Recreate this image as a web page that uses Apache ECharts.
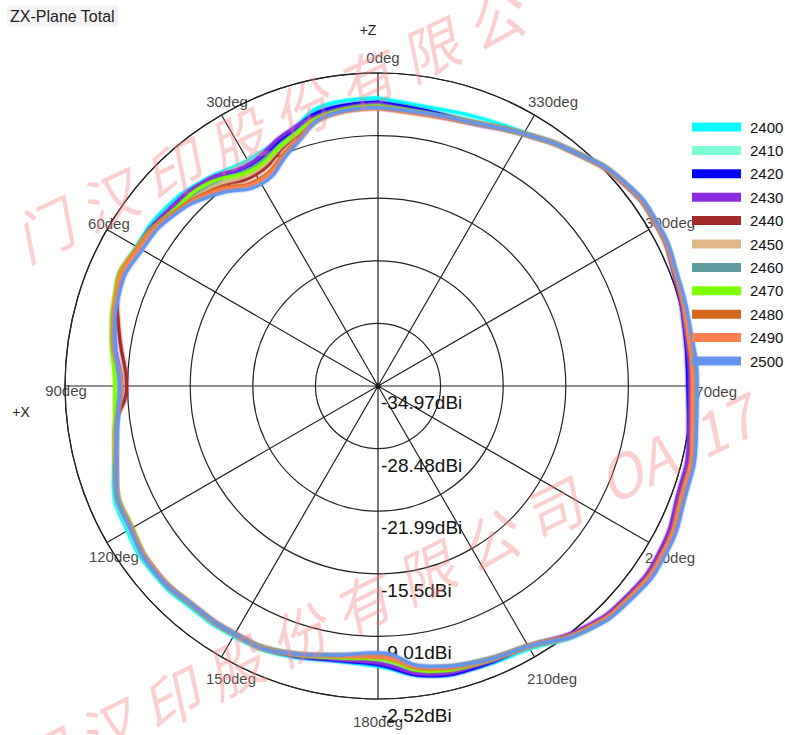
<!DOCTYPE html>
<html><head><meta charset="utf-8">
<script src="https://cdn.jsdelivr.net/npm/echarts@6/dist/echarts.min.js"></script>
<style>html,body{margin:0;padding:0;background:#fff}#c{width:785px;height:735px}</style>
</head><body><div id="c"></div>
<script>
const TITLE = 'ZX-Plane Total';
const ANGLES = [0,10,20,30,40,50,60,70,80,90,100,110,120,130,140,150,160,170,180,190,200,210,220,230,240,250,260,270,280,290,300,310,320,330,340,350,360];
const ANGLE_TICKS = [0,30,60,90,120,150,180,210,240,270,300,330];
const ANGLE_LABELS = ['0deg','30deg','60deg','90deg','120deg','150deg','180deg','210deg','240deg','270deg','300deg','330deg'];
const RADIAL_LABELS = ['-34.97dBi','-28.48dBi','-21.99dBi','-15.5dBi','-9.01dBi','-2.52dBi'];
const R_MIN = -34.97, R_MAX = -2.52, R_STEP = 6.49;
const NAMES = ['2400','2410','2420','2430','2440','2450','2460','2470','2480','2490','2500'];
const COLORS = ['#00FFFF','#7FFFD4','#0000FF','#8A2BE2','#A52A2A','#DEB887','#5F9EA0','#7FFF00','#D2691E','#FF7F50','#6495ED'];

// dBi values at ANGLES
const S2400 = [-5.12,-5.28,-7.23,-7.94,-7.06,-6.25,-6.09,-6.15,-7.06,-8.10,-7.55,-5.77,-4.95,-4.63,-4.89,-5.02,-5.34,-6.09,-5.92,-4.46,-3.98,-3.50,-1.71,-0.90,-0.74,-1.64,-1.87,-2.36,-2.26,-2.03,-1.55,-1.94,-3.23,-4.63,-5.28,-5.60,-5.12];
const S2410 = [-5.61,-5.93,-7.39,-8.20,-7.23,-6.68,-6.25,-6.15,-6.90,-8.04,-7.39,-5.93,-5.18,-4.79,-5.05,-5.12,-5.44,-6.25,-6.48,-4.79,-4.21,-3.66,-1.87,-0.90,-0.74,-1.48,-1.87,-2.36,-2.36,-2.03,-1.55,-1.94,-3.33,-4.79,-5.77,-5.99,-5.61];
const S2420 = [-5.54,-5.76,-7.32,-8.52,-7.29,-6.84,-6.25,-6.15,-7.22,-8.36,-7.39,-6.09,-5.44,-4.95,-5.21,-5.28,-5.50,-6.15,-6.09,-4.46,-4.05,-3.82,-2.03,-1.06,-1.00,-1.80,-2.26,-2.85,-2.68,-2.19,-1.55,-1.94,-3.33,-4.79,-5.93,-5.99,-5.54];
const S2430 = [-5.67,-6.09,-7.06,-8.36,-7.19,-6.58,-6.15,-6.15,-7.16,-8.36,-7.39,-6.09,-5.44,-4.95,-5.21,-5.28,-5.60,-6.25,-6.25,-4.63,-4.21,-3.82,-2.13,-1.22,-1.13,-1.90,-2.26,-2.68,-2.62,-2.19,-1.65,-2.04,-3.33,-4.79,-6.03,-6.25,-5.67];
const S2440 = [-6.03,-6.31,-8.04,-9.66,-8.20,-7.00,-6.25,-6.15,-7.81,-8.91,-7.23,-6.03,-5.44,-4.95,-5.21,-5.28,-5.60,-6.57,-6.99,-5.27,-4.53,-3.82,-1.87,-0.90,-0.74,-1.48,-1.87,-2.36,-2.36,-2.03,-1.55,-1.94,-3.33,-4.79,-5.93,-6.31,-6.03];
const S2450 = [-6.03,-6.35,-7.87,-9.33,-8.04,-7.00,-6.25,-6.15,-7.06,-8.36,-7.39,-6.09,-5.44,-4.95,-5.21,-5.28,-5.60,-6.51,-6.80,-5.11,-4.37,-3.82,-1.77,-0.80,-0.64,-1.38,-1.77,-2.26,-2.26,-1.93,-1.55,-1.94,-3.33,-4.79,-5.93,-6.35,-6.03];
const S2460 = [-5.93,-6.25,-7.71,-8.85,-7.71,-7.00,-6.25,-6.15,-7.06,-8.20,-7.39,-6.09,-5.44,-4.95,-5.21,-5.28,-5.70,-6.64,-7.12,-5.44,-4.63,-3.82,-1.77,-0.80,-0.58,-1.32,-1.71,-2.20,-2.26,-2.03,-1.55,-1.94,-3.33,-4.79,-5.93,-6.25,-5.93];
const S2470 = [-5.93,-6.25,-7.78,-9.07,-7.55,-7.00,-6.15,-5.99,-6.90,-7.68,-7.23,-6.09,-5.54,-4.95,-5.21,-5.28,-5.60,-6.41,-6.67,-4.95,-4.37,-3.82,-1.87,-0.90,-0.74,-1.48,-1.87,-2.36,-2.36,-2.03,-1.55,-1.94,-3.33,-4.79,-5.93,-6.25,-5.93];
const S2480 = [-6.09,-6.41,-8.52,-10.24,-8.52,-7.16,-6.25,-6.15,-7.06,-8.26,-7.39,-6.09,-5.44,-4.95,-5.21,-5.28,-5.60,-6.57,-6.90,-5.21,-4.47,-3.82,-1.87,-0.90,-0.74,-1.48,-1.87,-2.36,-2.36,-2.03,-1.55,-1.94,-3.33,-4.79,-5.93,-6.41,-6.09];
const S2490 = [-6.19,-6.48,-8.69,-10.41,-8.69,-7.26,-6.35,-6.15,-7.06,-8.26,-7.39,-6.09,-5.44,-4.95,-5.21,-5.28,-5.60,-6.57,-6.90,-5.27,-4.47,-3.82,-1.87,-0.90,-0.74,-1.48,-1.87,-2.36,-2.36,-2.03,-1.55,-1.94,-3.33,-4.79,-5.93,-6.41,-6.19];
const S2500 = [-6.09,-6.41,-8.85,-10.79,-9.01,-7.39,-6.74,-6.47,-7.22,-8.20,-7.45,-6.09,-5.34,-4.85,-5.21,-5.28,-5.60,-6.64,-7.32,-5.44,-4.53,-3.82,-1.71,-0.64,-0.42,-1.09,-1.48,-1.87,-2.04,-1.87,-1.45,-1.84,-3.33,-4.79,-5.93,-6.25,-6.09];
const SERIES_VALUES = [S2400,S2410,S2420,S2430,S2440,S2450,S2460,S2470,S2480,S2490,S2500];

// label placement (style, not data)
const ANGLE_LABEL_OFFSETS = [[5,-16],[5.5,-13],[2,-6.5],[1,4],[7,13.5],[9.5,21],[0,22],[17.5,21],[21,14.5],[21,5],[21,-7.5],[18.5,-13]];
const FONT = 'Liberation Sans, Arial, sans-serif';
const AXIS_COLOR = '#222';
const CENTER = [378, 386];
const RADIUS = 313;

const chart = echarts.init(document.getElementById('c'), null, {renderer: 'svg'});
const rSpan = Math.round((R_MAX - R_MIN) * 100) / 100;
// data polar extends one step beyond the outer ring so curves that pass the ring are not cut
const rData = Math.round((rSpan + R_STEP) * 100) / 100;
const dataRadius = RADIUS * rData / rSpan;

const lineSeries = NAMES.map((name, k) => ({
  type: 'line',
  name: name,
  coordinateSystem: 'polar',
  polarIndex: 2,
  data: SERIES_VALUES[k].map((v, i) => [v - R_MIN, ANGLES[i]]),
  smooth: true,
  symbol: 'none',
  clip: false,
  z: 3,
  lineStyle: {width: 3, color: COLORS[k], shadowBlur: 2, shadowColor: COLORS[k]},
  itemStyle: {color: COLORS[k]}
}));

const angleLabelSeries = {
  type: 'scatter',
  name: 'angleLabels',
  coordinateSystem: 'polar',
  polarIndex: 0,
  clip: false,
  silent: true,
  z: 1,
  symbol: 'circle',
  symbolSize: 1,
  itemStyle: {color: 'rgba(0,0,0,0)'},
  data: ANGLE_TICKS.map((a, i) => ({
    value: [rSpan, a],
    label: {offset: ANGLE_LABEL_OFFSETS[i]}
  })),
  label: {
    show: true,
    position: 'inside',
    align: 'center',
    verticalAlign: 'middle',
    fontSize: 15,
    fontFamily: FONT,
    color: '#111',
    formatter: p => ANGLE_LABELS[p.dataIndex]
  }
};

// origin marker of the polar grid
const originSeries = {
  type: 'scatter',
  name: 'origin',
  coordinateSystem: 'polar',
  polarIndex: 0,
  silent: true,
  z: 2,
  symbol: 'circle',
  symbolSize: 5,
  itemStyle: {color: '#111'},
  data: [[0, 0]]
};

const watermarkStyle = {
  fontSize: 58,
  fontFamily: 'Noto Sans CJK SC',
  fontStyle: 'italic',
  fill: 'rgba(242,130,130,0.38)',
  align: 'left', textAlign: 'left',
  verticalAlign: 'middle', textVerticalAlign: 'middle'
};

const hiddenAngle = (idx, start) => ({polarIndex: idx, type: 'value', min: 0, max: 360, interval: 30, startAngle: start, clockwise: false, show: false});

chart.setOption({
  animation: false,
  backgroundColor: '#fff',
  title: {
    text: TITLE, left: 7, top: 5, padding: [3, 3],
    backgroundColor: '#f4f4f4',
    textStyle: {fontSize: 16, fontWeight: 'normal', color: '#222', fontFamily: FONT}
  },
  legend: {
    orient: 'vertical', left: 692, top: 119.5, padding: 0,
    itemWidth: 49, itemHeight: 9, itemGap: 8.4, icon: 'rect',
    selectedMode: false,
    data: NAMES,
    textStyle: {fontSize: 15, color: '#111', fontFamily: FONT, padding: [0, 0, 0, 4]}
  },
  polar: [
    {center: CENTER, radius: RADIUS},
    {center: CENTER, radius: RADIUS},
    {center: CENTER, radius: dataRadius}
  ],
  angleAxis: [
    {
      polarIndex: 0, type: 'value', min: 0, max: 360, interval: 30,
      startAngle: 90, clockwise: false,
      axisLine: {show: true, lineStyle: {color: AXIS_COLOR, width: 1.2}},
      axisTick: {show: false}, axisLabel: {show: false},
      splitLine: {show: true, lineStyle: {color: AXIS_COLOR, width: 1.2}}
    },
    hiddenAngle(1, 270),
    hiddenAngle(2, 90)
  ],
  radiusAxis: [
    {
      polarIndex: 0, type: 'value', min: 0, max: rSpan, interval: R_STEP,
      axisLine: {show: false}, axisTick: {show: false}, axisLabel: {show: false},
      splitLine: {show: true, lineStyle: {color: AXIS_COLOR, width: 1.2}}
    },
    {
      polarIndex: 1, type: 'value', min: 0, max: rSpan, interval: R_STEP,
      axisLine: {show: false}, axisTick: {show: false}, splitLine: {show: false},
      axisLabel: {
        show: true, margin: 3, verticalAlign: 'top', align: 'left',
        padding: [7, 0, 0, 0],
        fontSize: 19, color: '#111', fontFamily: FONT,
        showMinLabel: true, showMaxLabel: true,
        formatter: v => RADIAL_LABELS[Math.round(v / R_STEP)]
      }
    },
    {
      polarIndex: 2, type: 'value', min: 0, max: rData, show: false,
      axisLine: {show: false}, axisTick: {show: false}, axisLabel: {show: false}, splitLine: {show: false}
    }
  ],
  graphic: [
    {type: 'text', x: 368, y: 30, silent: true,
     style: {text: '+Z', fontSize: 14, fontFamily: FONT, fill: '#222', align: 'center', textAlign: 'center', verticalAlign: 'middle', textVerticalAlign: 'middle'}},
    {type: 'text', x: 21, y: 412, silent: true,
     style: {text: '+X', fontSize: 14, fontFamily: FONT, fill: '#222', align: 'center', textAlign: 'center', verticalAlign: 'middle', textVerticalAlign: 'middle'}},
    {type: 'text', x: 16, y: 241, rotation: 0.438, z: 100, silent: true,
     style: Object.assign({text: '门 汉 印 股 份 有 限 公'}, watermarkStyle)},
    {type: 'text', x: 16, y: 773, rotation: 0.46, z: 100, silent: true,
     style: Object.assign({text: '门 汉 印 股 份 有 限 公 司  OA  17'}, watermarkStyle)}
  ],
  series: lineSeries.concat([angleLabelSeries, originSeries])
});
</script>
</body></html>
